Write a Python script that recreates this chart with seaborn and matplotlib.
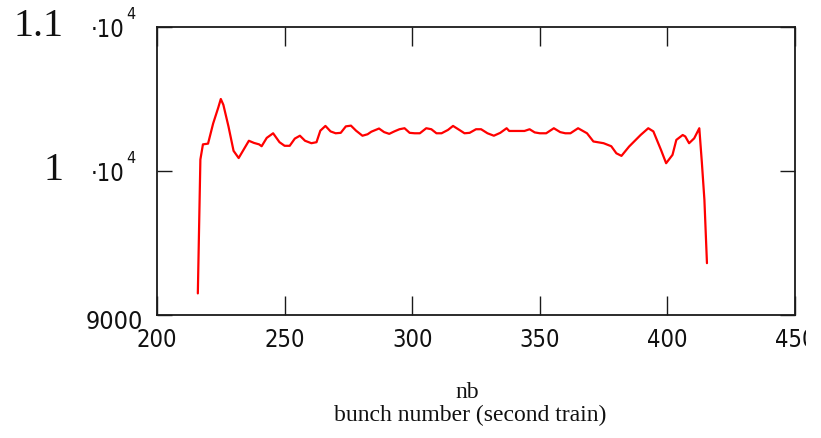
import matplotlib
matplotlib.use("Agg")
import matplotlib.pyplot as plt
import matplotlib.font_manager as fm
from matplotlib.transforms import Bbox, TransformedBbox
import seaborn as sns
import pandas as pd

# ---- data ----
nb = [216, 217, 218, 220, 222, 224, 225, 226, 228, 230, 232, 234, 236, 238, 240,
      241, 243, 245.5, 248, 250, 252, 254, 256, 258, 260.5, 262.5, 264, 266, 268,
      270, 272, 274, 276, 278, 280.5, 282.5, 284, 287, 289, 291, 293, 295, 297,
      299, 301, 303, 305.5, 307.5, 309.5, 311.5, 314, 316, 318.5, 320.5, 322.5,
      325, 327, 329.5, 332, 334.5, 337, 338, 341, 344, 346, 348, 350, 352.5,
      355.5, 358, 360, 362, 365, 368.5, 371, 375, 378, 380, 382, 385, 389.5,
      392.5, 394.5, 397.5, 399.5, 402, 403.5, 406, 407, 408.5, 410.5, 412.5,
      413.5, 414.5, 415.5]
intensity = [9150, 10080, 10185, 10190, 10330, 10440, 10500, 10460, 10310, 10140,
             10090, 10150, 10210, 10195, 10185, 10172, 10230, 10262, 10200, 10175,
             10175, 10225, 10245, 10210, 10193, 10200, 10280, 10313, 10275, 10262,
             10265, 10310, 10315, 10280, 10245, 10255, 10273, 10295, 10270, 10258,
             10275, 10290, 10297, 10265, 10262, 10262, 10297, 10290, 10262, 10262,
             10285, 10313, 10285, 10262, 10265, 10290, 10290, 10262, 10245, 10265,
             10297, 10278, 10278, 10278, 10290, 10268, 10262, 10262, 10297, 10270,
             10262, 10262, 10297, 10262, 10205, 10193, 10172, 10123, 10105, 10170,
             10250, 10297, 10275, 10146, 10054, 10112, 10216, 10250, 10240, 10193,
             10227, 10297, 10060, 9800, 9360]
x_ticks = [200, 250, 300, 350, 400, 450]
y_ticks = [9000, 10000, 11000]
x_label_top = "nb"
x_label_bottom = "bunch number (second train)"

df = pd.DataFrame({"nb": nb, "intensity": intensity})

sns.set_theme(style="white")
names = {f.name for f in fm.fontManager.ttflist}
if "Liberation Sans Narrow" in names:
    SANS = dict(family=["Liberation Sans Narrow", "DejaVu Sans"])
else:
    SANS = dict(family=["DejaVu Sans"], stretch="condensed")
SERIF = dict(family=["Liberation Serif", "DejaVu Serif"])
plt.rcParams["font.family"] = ["DejaVu Sans"]

fig = plt.figure(figsize=(8.21, 4.38), dpi=100)
ax = fig.add_axes([157 / 821, 1 - 315 / 438, 638 / 821, 288 / 438])

sns.lineplot(data=df, x="nb", y="intensity", color="#ff0000", linewidth=1.6,
             ax=ax, sort=True, estimator=None)

ax.set_xlim(200, 450)
ax.set_ylim(9000, 11000)
ax.set_xticks(x_ticks)
ax.set_yticks(y_ticks)
ax.set_xlabel("")
ax.set_ylabel("")

for s in ax.spines.values():
    s.set_visible(True)
    s.set_color("#1a1a1a")
    s.set_linewidth(1.3)

ax.tick_params(axis="x", direction="in", length=13.5, width=1.0, color="#1a1a1a",
               top=True, bottom=True, labelsize=17, pad=9.5, labelcolor="#111111")
ax.tick_params(axis="y", direction="in", length=11, width=1.0, color="#1a1a1a",
               left=True, right=True, labelleft=False)
ax.set_xticklabels([str(t) for t in x_ticks])
for lab in ax.get_xticklabels():
    lab.set_fontfamily(SANS["family"])
    if "stretch" in SANS:
        lab.set_fontstretch(SANS["stretch"])

# clip the right-most label like the reference
clipbox = TransformedBbox(Bbox([[0, 0], [806 / 821, 1]]), fig.transFigure)
ax.get_xticklabels()[-1].set_clip_box(clipbox)
ax.get_xticklabels()[-1].set_clip_on(True)

ytr = ax.get_yaxis_transform()
ax.annotate("1.1", xy=(0, y_ticks[2]), xycoords=ytr, xytext=(-94, 0),
            textcoords="offset pixels", ha="right", va="center", fontsize=29,
            color="#111111", **SERIF, annotation_clip=False)
ax.annotate("1", xy=(0, y_ticks[1]), xycoords=ytr, xytext=(-94, 0),
            textcoords="offset pixels", ha="right", va="center", fontsize=29,
            color="#111111", **SERIF, annotation_clip=False)
for yv in (y_ticks[2], y_ticks[1]):
    ax.annotate("·10", xy=(0, yv), xycoords=ytr, xytext=(-66, -3),
                textcoords="offset pixels", ha="left", va="center", fontsize=17,
                color="#111111", **SANS, annotation_clip=False)
    ax.annotate("4", xy=(0, yv), xycoords=ytr, xytext=(-31, 12),
                textcoords="offset pixels", ha="left", va="center", fontsize=11.5,
                color="#111111", **SANS, annotation_clip=False)
ax.annotate("9000", xy=(0, y_ticks[0]), xycoords=ytr, xytext=(-14, -7),
            textcoords="offset pixels", ha="right", va="center", fontsize=18,
            color="#111111", **SANS, annotation_clip=False)

fig.text(467 / 821, 1 - 392 / 438, x_label_top, ha="center", va="center",
         fontsize=17, color="#111111", **SERIF)
fig.text(470 / 821, 1 - 415 / 438, x_label_bottom, ha="center", va="center",
         fontsize=17, color="#111111", **SERIF)

fig.savefig("out.png", dpi=100, facecolor="white")
